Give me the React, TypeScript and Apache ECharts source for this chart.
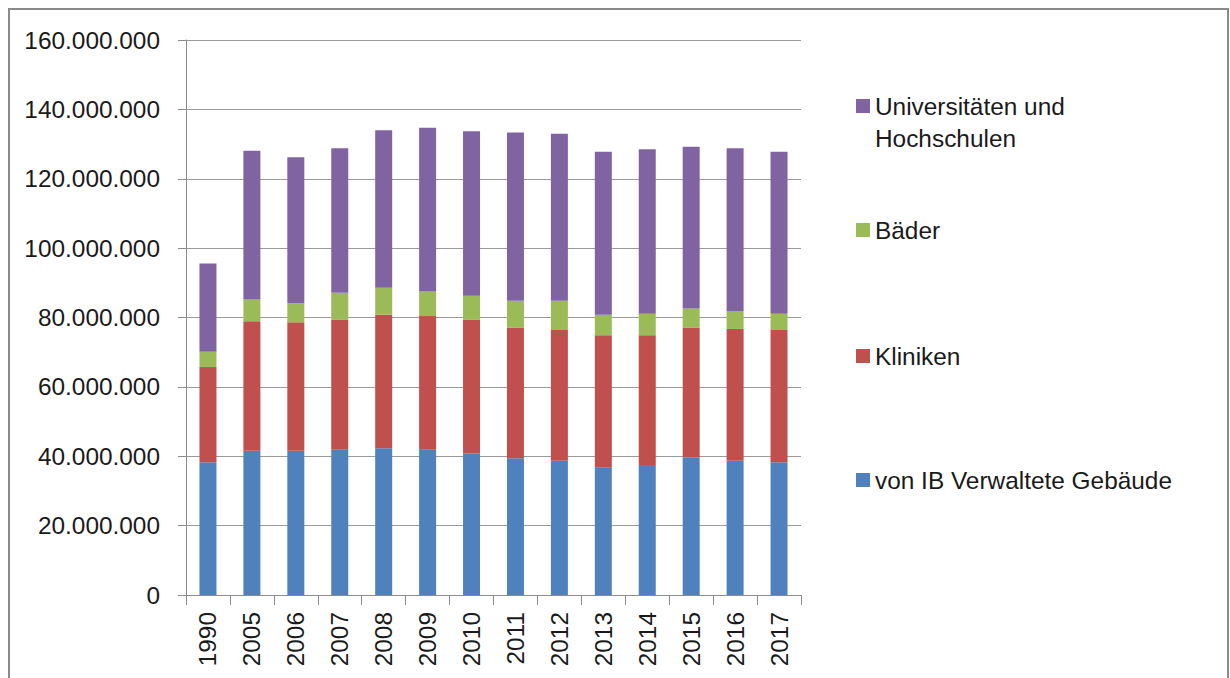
import React, { useEffect, useRef } from "react";
import * as echarts from "echarts";

const categories = ["1990", "2005", "2006", "2007", "2008", "2009", "2010", "2011", "2012", "2013", "2014", "2015", "2016", "2017"];
const seriesNames = ["von IB Verwaltete Gebäude", "Kliniken", "Bäder", "Universitäten und Hochschulen"];
const verwalteteGebaeude = [38.3, 41.6, 41.6, 41.9, 42.3, 41.9, 40.8, 39.4, 38.7, 36.7, 37.5, 39.7, 38.7, 38.3];
const kliniken = [27.4, 37.3, 37.0, 37.4, 38.5, 38.5, 38.5, 37.7, 37.7, 38.2, 37.4, 37.4, 38.0, 38.1];
const baeder = [4.4, 6.3, 5.5, 7.8, 7.8, 7.1, 7.0, 7.7, 8.4, 5.9, 6.2, 5.5, 5.2, 4.7];
const universitaeten = [25.5, 42.9, 42.1, 41.7, 45.4, 47.2, 47.4, 48.5, 48.2, 47.0, 47.4, 46.6, 46.9, 46.7];
const colors = ["#4F81BD", "#C0504D", "#9BBB59", "#8064A2"];
const yTicks = { min: 0, max: 160000000, interval: 20000000 };

const fmt = (v: number) => String(Math.round(v)).replace(/\B(?=(\d{3})+(?!\d))/g, ".");

export default function App() {
  const ref = useRef<HTMLDivElement>(null);
  useEffect(() => {
    if (!ref.current) return;
    const chart = echarts.init(ref.current, undefined, { renderer: "svg" });
    const font = "Liberation Sans";
    const textColor = "#1a1a1a";
    const fs = 24.4;
    const data = [verwalteteGebaeude, kliniken, baeder, universitaeten];
    const legendCenters = [480, 356, 230, 106];
    chart.setOption({
      animation: false,
      backgroundColor: "#ffffff",
      textStyle: { fontFamily: font },
      grid: { left: 186, right: 429, top: 40, bottom: 83, containLabel: false },
      xAxis: {
        type: "category",
        data: categories,
        axisLine: { lineStyle: { color: "#8c8c8c", width: 1 } },
        axisTick: { show: true, length: 10, lineStyle: { color: "#8c8c8c" } },
        axisLabel: { rotate: 90, margin: 17, fontSize: fs, color: textColor, fontFamily: font },
      },
      yAxis: {
        type: "value",
        min: yTicks.min,
        max: yTicks.max,
        interval: yTicks.interval,
        axisLine: { show: true, lineStyle: { color: "#8c8c8c", width: 1 } },
        axisTick: { show: true, length: 8, lineStyle: { color: "#8c8c8c" } },
        splitLine: { lineStyle: { color: "#9a9a9a", width: 1 } },
        axisLabel: { margin: 26, fontSize: fs, color: textColor, fontFamily: font, formatter: (v: number) => fmt(v) },
      },
      legend: seriesNames.map((n, i) => {
        const multi = n === "Universitäten und Hochschulen";
        return {
          data: [n],
          orient: "vertical",
          left: 856,
          top: legendCenters[i] - (multi ? 48 : 16),
          itemWidth: 14,
          itemHeight: 14,
          itemGap: 0,
          icon: "rect",
          selectedMode: false,
          formatter: (name: string) => (multi ? " \nUniversitäten und\nHochschulen" : name),
          textStyle: {
            fontSize: fs,
            color: textColor,
            fontFamily: font,
            lineHeight: 32,
          },
          padding: 0,
        };
      }),
      graphic: [
        {
          type: "rect",
          shape: { x: 9, y: 9, width: 1219, height: 700 },
          style: { fill: "none", stroke: "#8a8a8a", lineWidth: 2 },
          silent: true,
        },
      ],
      series: seriesNames.map((n, i) => ({
        name: n,
        type: "bar",
        stack: "total",
        barWidth: 17,
        itemStyle: { color: colors[i] },
        data: data[i].map((v) => v * 1000000),
      })),
    });
    return () => chart.dispose();
  }, []);
  return <div ref={ref} style={{ position: "fixed", left: 0, top: 0, width: 1230, height: 678 }} />;
}
